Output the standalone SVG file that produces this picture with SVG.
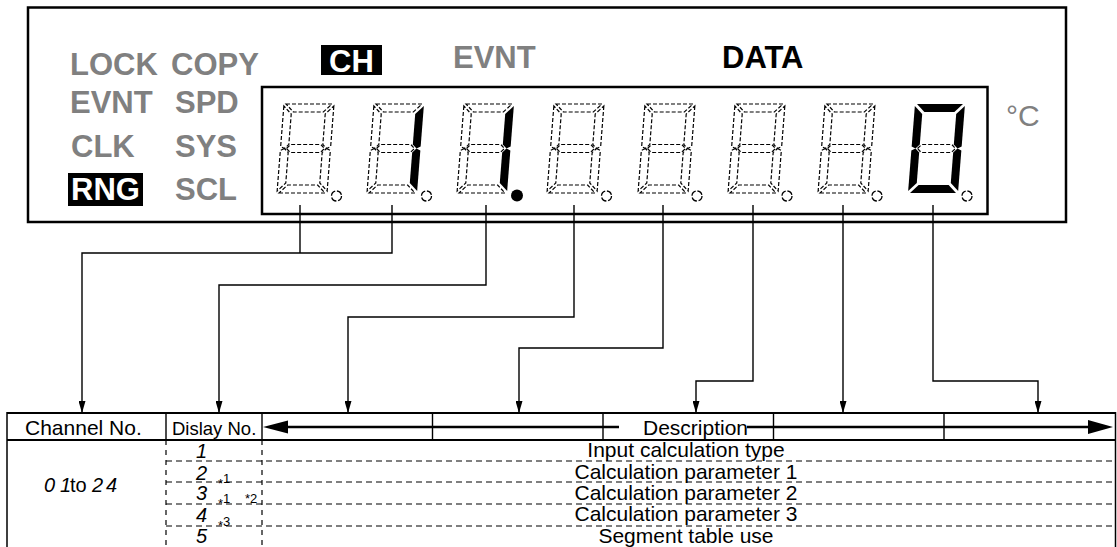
<svg xmlns="http://www.w3.org/2000/svg" width="1117" height="547" viewBox="0 0 1117 547">
<style>
  .lbl{font-family:"Liberation Sans",Arial,sans-serif;font-weight:bold;font-size:31px;fill:#808080}
  .blk{fill:#000}
  .wht{fill:#fff}
  .off{fill:none;stroke:#000;stroke-width:1.2;stroke-dasharray:4 2}
  .on{fill:#000;stroke:none}
  .dotoff{fill:none;stroke:#000;stroke-width:1.3;stroke-dasharray:6 1.8}
  .txt{font-family:"Liberation Sans",Arial,sans-serif;font-size:21px;fill:#000}
  .seg{font-family:"Liberation Sans",Arial,sans-serif;font-size:20px;font-style:italic;fill:#000}
  .note{font-family:"Liberation Sans",Arial,sans-serif;font-size:13px;fill:#000}
  .frame{fill:none;stroke:#000;stroke-width:2.5}
  .ln{fill:none;stroke:#000;stroke-width:1.4}
  .dash{fill:none;stroke:#000;stroke-width:1.2;stroke-dasharray:6 4}
</style>
<defs>
  <path id="sa" d="M2,0H48L40,8H10Z"/>
  <path id="sb" d="M50,2V42.5L46,44.5L42,40.5V10Z"/>
  <path id="sc" d="M46,44.5L50,46.5V87L42,79V48.5Z"/>
  <path id="sd" d="M2,89H48L40,81H10Z"/>
  <path id="se" d="M4,44.5L0,46.5V87L8,79V48.5Z"/>
  <path id="sf" d="M0,2V42.5L4,44.5L8,40.5V10Z"/>
  <path id="sg" d="M6,44.5L10,40.5H40L44,44.5L40,48.5H10Z"/>
  <marker id="ah" markerUnits="userSpaceOnUse" markerWidth="12" markerHeight="7" viewBox="0 0 12 7" refX="12" refY="3.5" orient="auto">
    <path d="M0,0L12,3.5L0,7Z" fill="#000"/>
  </marker>
</defs>
<rect width="1117" height="547" fill="#fff"/>

<g id="panel">
  <rect class="frame" x="28" y="7.5" width="1038" height="214.5"/>
  <rect class="frame" x="262" y="87" width="725.5" height="127"/>
</g>

<g id="labels">
  <g id="lbl-lock"><text class="lbl" x="70" y="75">LOCK</text></g>
  <g id="lbl-copy"><text class="lbl" x="171" y="75">COPY</text></g>
  <g id="lbl-evnt1"><text class="lbl" x="70" y="113">EVNT</text></g>
  <g id="lbl-spd"><text class="lbl" x="175" y="113">SPD</text></g>
  <g id="lbl-clk"><text class="lbl" x="71" y="157">CLK</text></g>
  <g id="lbl-sys"><text class="lbl" x="175" y="157">SYS</text></g>
  <g id="lbl-rng"><rect class="blk" x="68" y="173" width="75" height="33"/><text class="lbl wht" x="71" y="200">RNG</text></g>
  <g id="lbl-scl"><text class="lbl" x="175" y="200">SCL</text></g>
  <g id="lbl-ch"><rect class="blk" x="321" y="45" width="61" height="30"/><text class="lbl wht" x="351.5" y="72" text-anchor="middle">CH</text></g>
  <g id="lbl-evnt2"><text class="lbl" x="453" y="68">EVNT</text></g>
  <g id="lbl-data"><text class="lbl blk" x="722" y="68">DATA</text></g>
  <g id="lbl-degc"><text class="lbl" x="1006" y="126" style="font-weight:normal;font-size:30px">°C</text></g>
</g>

<g id="display">
  <g id="digit1" transform="translate(284,104) skewX(-4.5)">
    <use href="#sa" class="off"/><use href="#sb" class="off"/><use href="#sc" class="off"/><use href="#sd" class="off"/><use href="#se" class="off"/><use href="#sf" class="off"/><use href="#sg" class="off"/>
  </g>
  <circle class="dotoff" cx="336.5" cy="196" r="5"/>
  <g id="digit2" transform="translate(374,104) skewX(-4.5)">
    <use href="#sa" class="off"/><use href="#sb" class="on"/><use href="#sc" class="on"/><use href="#sd" class="off"/><use href="#se" class="off"/><use href="#sf" class="off"/><use href="#sg" class="off"/>
  </g>
  <circle class="dotoff" cx="426.5" cy="196" r="5"/>
  <g id="digit3" transform="translate(464,104) skewX(-4.5)">
    <use href="#sa" class="off"/><use href="#sb" class="on"/><use href="#sc" class="on"/><use href="#sd" class="off"/><use href="#se" class="off"/><use href="#sf" class="off"/><use href="#sg" class="off"/>
  </g>
  <circle class="on" cx="517" cy="195.5" r="6"/>
  <g id="digit4" transform="translate(554,104) skewX(-4.5)">
    <use href="#sa" class="off"/><use href="#sb" class="off"/><use href="#sc" class="off"/><use href="#sd" class="off"/><use href="#se" class="off"/><use href="#sf" class="off"/><use href="#sg" class="off"/>
  </g>
  <circle class="dotoff" cx="606.5" cy="196" r="5"/>
  <g id="digit5" transform="translate(645,104) skewX(-4.5)">
    <use href="#sa" class="off"/><use href="#sb" class="off"/><use href="#sc" class="off"/><use href="#sd" class="off"/><use href="#se" class="off"/><use href="#sf" class="off"/><use href="#sg" class="off"/>
  </g>
  <circle class="dotoff" cx="697" cy="196" r="5"/>
  <g id="digit6" transform="translate(735,104) skewX(-4.5)">
    <use href="#sa" class="off"/><use href="#sb" class="off"/><use href="#sc" class="off"/><use href="#sd" class="off"/><use href="#se" class="off"/><use href="#sf" class="off"/><use href="#sg" class="off"/>
  </g>
  <circle class="dotoff" cx="787" cy="196" r="5"/>
  <g id="digit7" transform="translate(825,104) skewX(-4.5)">
    <use href="#sa" class="off"/><use href="#sb" class="off"/><use href="#sc" class="off"/><use href="#sd" class="off"/><use href="#se" class="off"/><use href="#sf" class="off"/><use href="#sg" class="off"/>
  </g>
  <circle class="dotoff" cx="877" cy="196" r="5"/>
  <g id="digit8" transform="translate(915,104) skewX(-4.5)">
    <use href="#sa" class="on"/><use href="#sb" class="on"/><use href="#sc" class="on"/><use href="#sd" class="on"/><use href="#se" class="on"/><use href="#sf" class="on"/><use href="#sg" class="off"/>
  </g>
  <circle class="dotoff" cx="967" cy="196" r="5"/>
</g>

<g id="connectors" class="ln">
  <path d="M300,205V253"/>
  <path d="M392,205V253H82V413" marker-end="url(#ah)"/>
  <path d="M486,205V285H219V413" marker-end="url(#ah)"/>
  <path d="M574,205V317H348V413" marker-end="url(#ah)"/>
  <path d="M663,205V348H519V413" marker-end="url(#ah)"/>
  <path d="M753,205V381H696V413" marker-end="url(#ah)"/>
  <path d="M843,205V413" marker-end="url(#ah)"/>
  <path d="M933,205V381H1038V413" marker-end="url(#ah)"/>
</g>

<g id="table">
  <path d="M7,413H1115.5" stroke="#000" stroke-width="2.2" fill="none"/>
  <path d="M7,440H1115.5" stroke="#000" stroke-width="2" fill="none"/>
  <path d="M7,412V547M1115.5,412V547" stroke="#000" stroke-width="1.5" fill="none"/>
  <path d="M166,413V440M262,413V440M432.5,413V440M603,413V440M773.5,413V440M944,413V440" stroke="#000" stroke-width="1.4" fill="none"/>
  <path class="dash" d="M166,440V547M262,440V547" style="stroke-dasharray:5 5"/>
  <path class="dash" d="M166,461H1115M166,482H1115M166,504H1115M166,526H1115"/>
</g>

<g id="header">
  <text class="txt" x="25" y="435">Channel No.</text>
  <text class="txt" x="172" y="435" style="font-size:18.5px">Dislay No.</text>
  <path d="M287,427H619M747,427H1090" stroke="#000" stroke-width="2.6" fill="none"/>
  <path d="M263,427L288,420.5V433.5Z" fill="#000"/>
  <path d="M1113,427L1088,420V434Z" fill="#000"/>
  <text class="txt" x="643" y="435">Description</text>
</g>

<g id="rows">
  <text class="seg" y="492"><tspan x="44">0</tspan><tspan x="60">1</tspan><tspan x="70" style="font-style:normal">to</tspan><tspan x="92">2</tspan><tspan x="106">4</tspan></text>
  <text class="seg" x="196" y="458">1</text>
  <text class="seg" x="196" y="480">2</text>
  <text class="seg" x="196" y="500">3</text>
  <text class="seg" x="196" y="522">4</text>
  <text class="seg" x="196" y="543">5</text>
  <text class="note" x="218" y="483"><tspan dy="5">*</tspan><tspan dy="-5">1</tspan></text>
  <text class="note" x="218" y="503"><tspan dy="5">*</tspan><tspan dy="-5">1</tspan></text>
  <text class="note" x="245" y="503">*2</text>
  <text class="note" x="218" y="526"><tspan dy="4">*</tspan><tspan dy="-4">3</tspan></text>
  <text class="txt" x="686" y="457" text-anchor="middle">Input calculation type</text>
  <text class="txt" x="686" y="479" text-anchor="middle">Calculation parameter 1</text>
  <text class="txt" x="686" y="500" text-anchor="middle">Calculation parameter 2</text>
  <text class="txt" x="686" y="521" text-anchor="middle">Calculation parameter 3</text>
  <text class="txt" x="686" y="543" text-anchor="middle">Segment table use</text>
</g>
</svg>
